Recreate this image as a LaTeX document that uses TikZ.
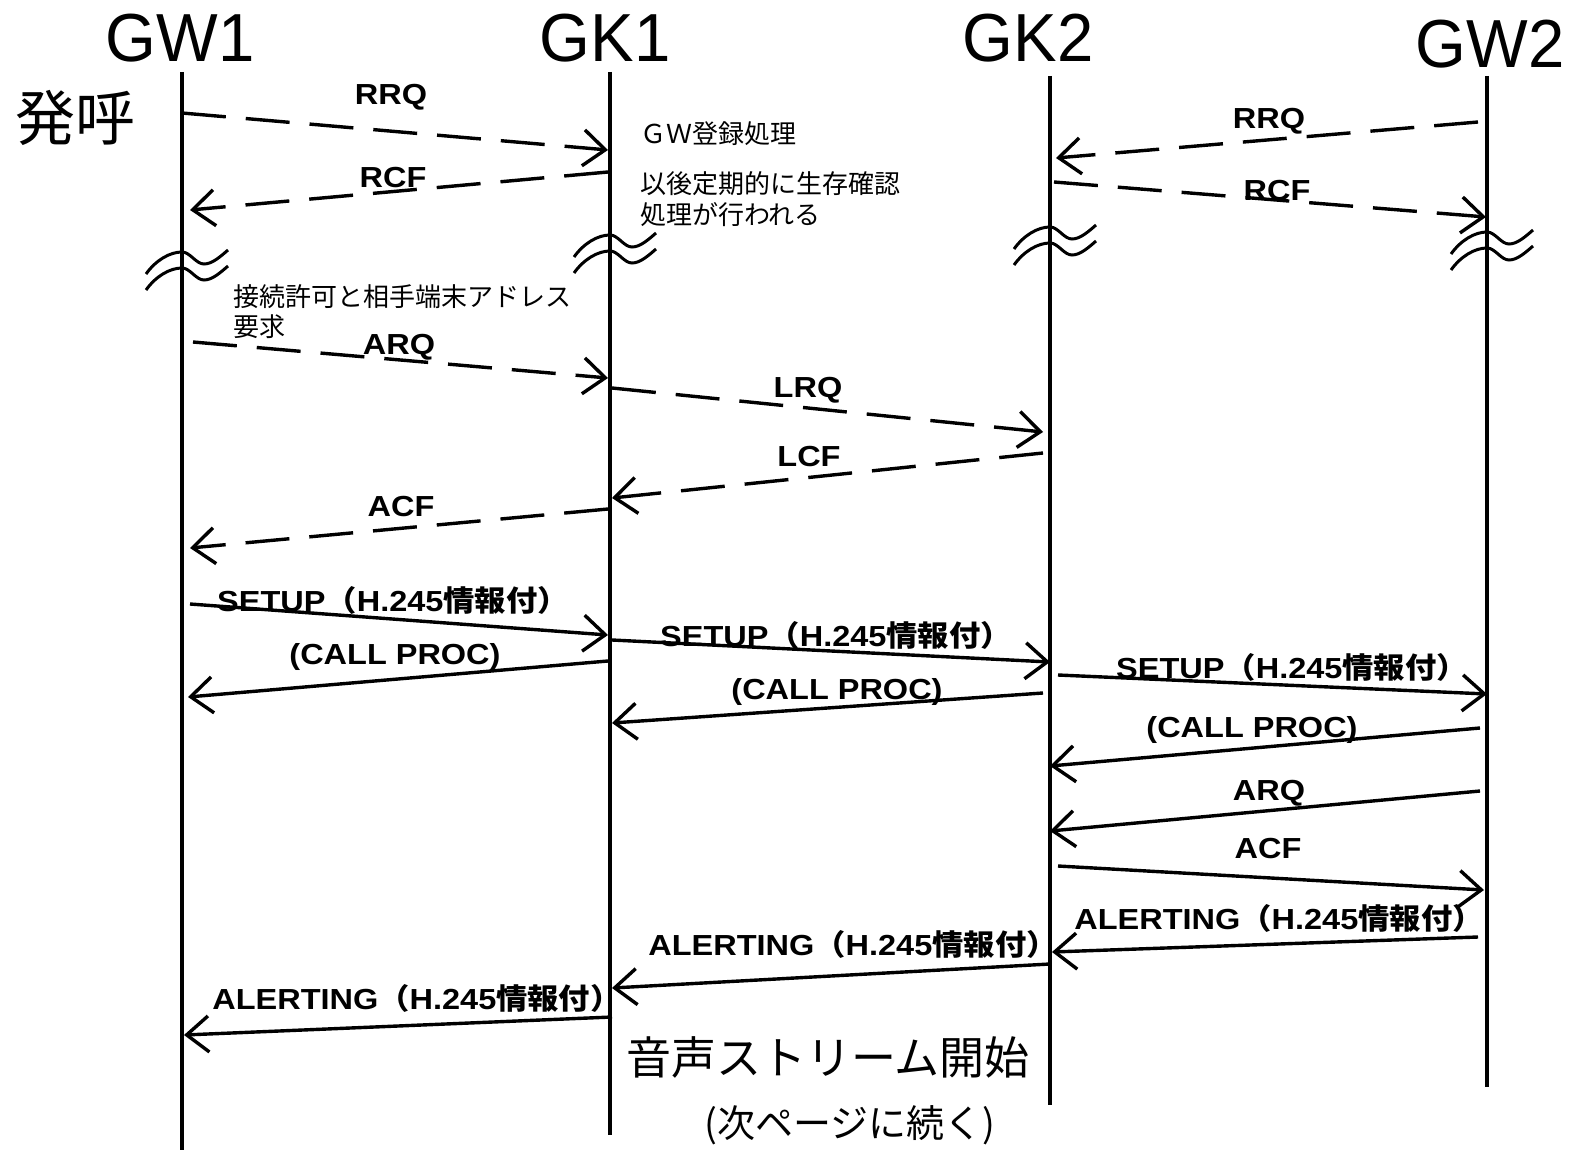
\documentclass[tikz,border=0pt]{standalone}
\usepackage{fontspec}
\setmainfont{Liberation Sans}
\newfontfamily\cjk{Noto Sans CJK JP}
\newfontfamily\cjkw{Noto Sans CJK JP}[FakeStretch=1.08]
\newfontfamily\labfont{Liberation Sans}[FakeStretch=1.12]
\newfontfamily\hdrfont{Liberation Sans}[FakeStretch=0.96]
\usetikzlibrary{arrows.meta}
\newcommand{\Hdr}[1]{{\hdrfont\fontsize{68}{70}\selectfont #1}}
\newcommand{\Hinfo}{{\cjkw\bfseries （}H.245{\cjkw\bfseries 情報付）}}
\tikzset{
  life/.style={line width=3.4pt},
  msg/.style={line width=3.4pt,-{Straight Barb[length=22pt,width=36pt]}},
  dmsg/.style={msg,dash pattern=on 44pt off 20pt},
  lab/.style={inner sep=0pt,font=\labfont\fontsize{29}{32}\selectfont\bfseries},
  note/.style={inner sep=0pt,anchor=west,font=\cjk\fontsize{26}{28}\selectfont},
  brk/.pic={
    \draw[line width=3pt] (-36,14) .. controls (-26,0) and (-12,-8) .. (0,-8)
       .. controls (8,-8) and (14,4) .. (22,4) .. controls (30,4) and (38,-3) .. (46,-10);
    \draw[line width=3pt] (-36,30) .. controls (-26,16) and (-12,8) .. (0,8)
       .. controls (8,8) and (14,20) .. (22,20) .. controls (30,20) and (38,13) .. (46,6);
  }
}
\begin{document}
\begin{tikzpicture}[x=1pt,y=-1pt]
\fill[white] (0,0) rectangle (1571,1150);
\useasboundingbox (0,0) rectangle (1571,1150);

% headers
\node[inner sep=0pt] (hGW1) at (180,38) {\Hdr{GW1}};
\node[inner sep=0pt] (hGK1) at (605,38) {\Hdr{GK1}};
\node[inner sep=0pt] (hGK2) at (1028,38) {\Hdr{GK2}};
\node[inner sep=0pt] (hGW2) at (1490,44) {\Hdr{GW2}};
\node[inner sep=0pt] (call) at (75,118) {\cjk\fontsize{60}{62}\selectfont 発呼};

% lifelines
\coordinate (a0) at (182,72);  \coordinate (a1) at (182,1150);
\coordinate (b0) at (610,72);  \coordinate (b1) at (610,1135);
\coordinate (c0) at (1050,76); \coordinate (c1) at (1050,1105);
\coordinate (d0) at (1487,76); \coordinate (d1) at (1487,1087);
\draw[life] (a0) -- (a1);
\draw[life] (b0) -- (b1);
\draw[life] (c0) -- (c1);
\draw[life] (d0) -- (d1);

% breaks
\pic at (182,260) {brk};
\pic at (610,243) {brk};
\pic at (1050,235) {brk};
\pic at (1487,240) {brk};

% notes
\node[note] (n1) at (640,134) {ＧＷ登録処理};
\node[note] (n2) at (640,184) {以後定期的に生存確認};
\node[note] (n3) at (640,215) {処理が行われる};
\node[note] (n4) at (233,297) {接続許可と相手端末アドレス};
\node[note] (n5) at (233,327) {要求};

% registration
\coordinate (m1s) at (182,113);  \coordinate (m1e) at (608,150);
\draw[dmsg] (m1s) -- (m1e);
\node[lab] (l1) at (391,97) {RRQ};
\coordinate (m2s) at (608,172);  \coordinate (m2e) at (190,210);
\draw[dmsg] (m2s) -- (m2e);
\node[lab] (l2) at (393,178) {RCF};
\coordinate (m3s) at (1478,122); \coordinate (m3e) at (1056,158);
\draw[dmsg] (m3s) -- (m3e);
\node[lab] (l3) at (1269,121) {RRQ};
\coordinate (m4s) at (1054,182); \coordinate (m4e) at (1486,217);
\draw[dmsg] (m4s) -- (m4e);
\node[lab] (l4) at (1277,191) {RCF};

% admission
\coordinate (m5s) at (193,342);  \coordinate (m5e) at (608,378);
\draw[dmsg] (m5s) -- (m5e);
\node[lab] (l5) at (399,347) {ARQ};
\coordinate (m6s) at (612,388);  \coordinate (m6e) at (1043,432);
\draw[dmsg] (m6s) -- (m6e);
\node[lab] (l6) at (808,390) {LRQ};
\coordinate (m7s) at (1043,453); \coordinate (m7e) at (612,498);
\draw[dmsg] (m7s) -- (m7e);
\node[lab] (l7) at (809,457) {LCF};
\coordinate (m8s) at (608,509);  \coordinate (m8e) at (190,548);
\draw[dmsg] (m8s) -- (m8e);
\node[lab] (l8) at (401,507) {ACF};

% setup
\coordinate (m9s) at (190,604);  \coordinate (m9e) at (608,635);
\draw[msg] (m9s) -- (m9e);
\node[lab] (l9) at (393,600) {SETUP\Hinfo};
\coordinate (m10s) at (608,661); \coordinate (m10e) at (188,697);
\draw[msg] (m10s) -- (m10e);
\node[lab] (l10) at (395,657) {(CALL PROC)};
\coordinate (m11s) at (612,640); \coordinate (m11e) at (1050,662);
\draw[msg] (m11s) -- (m11e);
\node[lab] (l11) at (836,635) {SETUP\Hinfo};
\coordinate (m12s) at (1043,693); \coordinate (m12e) at (612,723);
\draw[msg] (m12s) -- (m12e);
\node[lab] (l12) at (837,692) {(CALL PROC)};
\coordinate (m13s) at (1058,675); \coordinate (m13e) at (1487,694);
\draw[msg] (m13s) -- (m13e);
\node[lab] (l13) at (1292,667) {SETUP\Hinfo};
\coordinate (m14s) at (1480,728); \coordinate (m14e) at (1050,766);
\draw[msg] (m14s) -- (m14e);
\node[lab] (l14) at (1252,730) {(CALL PROC)};
\coordinate (m15s) at (1480,791); \coordinate (m15e) at (1050,831);
\draw[msg] (m15s) -- (m15e);
\node[lab] (l15) at (1269,793) {ARQ};
\coordinate (m16s) at (1058,866); \coordinate (m16e) at (1484,890);
\draw[msg] (m16s) -- (m16e);
\node[lab] (l16) at (1268,849) {ACF};
\coordinate (m17s) at (1478,937); \coordinate (m17e) at (1052,952);
\draw[msg] (m17s) -- (m17e);
\node[lab] (l17) at (1279,918) {ALERTING\Hinfo};
\coordinate (m18s) at (1050,964); \coordinate (m18e) at (612,988);
\draw[msg] (m18s) -- (m18e);
\node[lab] (l18) at (853,944) {ALERTING\Hinfo};
\coordinate (m19s) at (612,1017); \coordinate (m19e) at (184,1035);
\draw[msg] (m19s) -- (m19e);
\node[lab] (l19) at (417,998) {ALERTING\Hinfo};

% bottom texts
\node[inner sep=0pt] (voice) at (828,1057) {\cjk\fontsize{45}{47}\selectfont 音声ストリーム開始};
\node[inner sep=0pt] (cont) at (850,1125) {\cjk\fontsize{38}{40}\selectfont (次ページに続く)};
\end{tikzpicture}
\end{document}
